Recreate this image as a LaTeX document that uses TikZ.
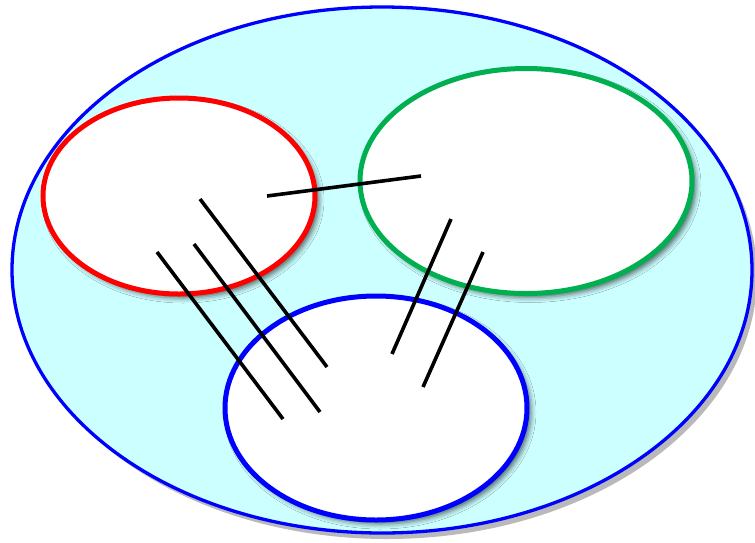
\documentclass[tikz,border=0pt]{standalone}
\usetikzlibrary{shapes.geometric,shadows.blur}
\definecolor{setgreen}{HTML}{00B050}
\definecolor{setcyan}{HTML}{CCFFFF}
\begin{document}
\begin{tikzpicture}[x=1pt,y=-1pt,
  setell/.style={ellipse,inner sep=0pt,outer sep=0pt,fill=white,line width=5pt,
    blur shadow={shadow xshift=4pt,shadow yshift=-4pt,shadow blur radius=5pt,shadow opacity=60}},
  stroke/.style={line width=3.6pt,black}]
\useasboundingbox (0,0) rectangle (755,542);
% universe
\fill[gray!55] (387,276) ellipse [x radius=370,y radius=263];
\node[ellipse,inner sep=0pt,outer sep=0pt,minimum width=740pt,minimum height=526pt,
  fill=setcyan,draw=blue,line width=3.3pt] (U) at (382,270) {};
\node[setell,draw=red,minimum width=272pt,minimum height=196pt] (A) at (179,196) {};
\node[setell,draw=setgreen,minimum width=332pt,minimum height=225pt] (B) at (526,181) {};
\node[setell,draw=blue,minimum width=302pt,minimum height=224pt] (C) at (376,408) {};
% hatch lines
\coordinate (h1) at (267,196); \coordinate (h2) at (421,176);
\coordinate (a1) at (200,199); \coordinate (a2) at (327,367);
\coordinate (b1) at (194,244); \coordinate (b2) at (320,412);
\coordinate (c1) at (157,252); \coordinate (c2) at (283,419);
\coordinate (d1) at (451,219); \coordinate (d2) at (392,354);
\coordinate (e1) at (483,252); \coordinate (e2) at (423,387);
\draw[stroke] (h1) -- (h2);
\draw[stroke] (a1) -- (a2);
\draw[stroke] (b1) -- (b2);
\draw[stroke] (c1) -- (c2);
\draw[stroke] (d1) -- (d2);
\draw[stroke] (e1) -- (e2);
\end{tikzpicture}
\end{document}
